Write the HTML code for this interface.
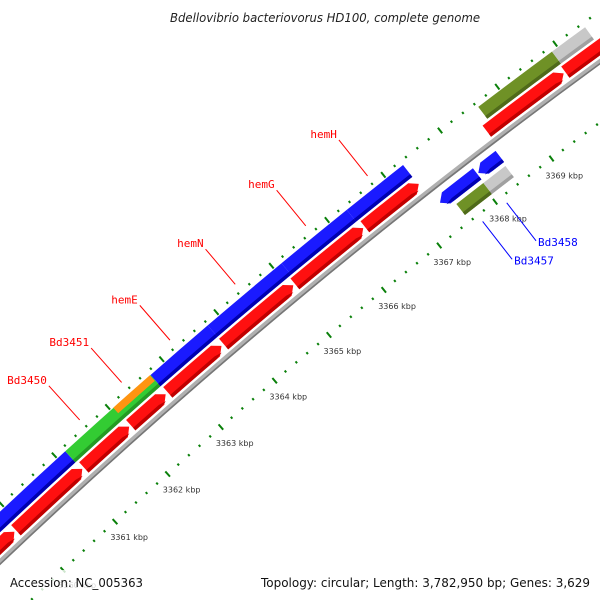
<!DOCTYPE html>
<html><head><meta charset="utf-8"><style>
html,body{margin:0;padding:0;background:#fff;width:600px;height:600px;overflow:hidden;}
svg{display:block;overflow:hidden;}
</style></head><body>
<svg id="chart" width="600" height="600" viewBox="0 0 600 600" xmlns="http://www.w3.org/2000/svg">
<rect x="0" y="0" width="600" height="600" fill="#fff"/>
<g id="ticks"></g>
<g id="backbone"></g>
<g id="features"></g>
<g id="labels"></g>
<rect x="0" y="570" width="150" height="26" fill="#fff" opacity="0.8"/>
<text x="170" y="22" textLength="310" lengthAdjust="spacingAndGlyphs" font-family="DejaVu Sans, Liberation Sans, sans-serif" font-style="italic" font-size="12" fill="#222">Bdellovibrio bacteriovorus HD100, complete genome</text>
<text x="10" y="587" textLength="133" lengthAdjust="spacingAndGlyphs" font-family="DejaVu Sans, Liberation Sans, sans-serif" font-size="12" fill="#111">Accession: NC_005363</text>
<text x="261" y="587" textLength="329" lengthAdjust="spacingAndGlyphs" font-family="DejaVu Sans, Liberation Sans, sans-serif" font-size="12" fill="#111">Topology: circular; Length: 3,782,950 bp; Genes: 3,629</text>
</svg>
<script>
// axis data
const tickLabels = [3360, 3361, 3362, 3363, 3364, 3365, 3366, 3367, 3368, 3369, 3370];
// features
const featStart = [3358, 3361.15, 3362.05, 3362.74, 3363.79, 3365.13, 3366.30, 3368.62, 3369.90,
  3358, 3359.90, 3361.19, 3362.07, 3362.76, 3363.79, 3365.09, 3366.35, 3368.51, 3369.88,
  3367.38, 3368.06, 3367.55, 3368.03];
const featEnd = [3361.15, 3362.74, 3362.73, 3363.79, 3365.13, 3366.30, 3367.30, 3369.90, 3370.47,
  3359.87, 3361.16, 3362.04, 3362.72, 3363.75, 3365.06, 3366.32, 3367.31, 3369.85, 3372,
  3368.04, 3368.44, 3368.03, 3368.42];
const featLane = [0,0,4,0,0,0,0,0,0, 1,1,1,1,1,1,1,1,1,1, 2,2,3,3];
const featColor = ['blue','green','orange','blue','blue','blue','blue','olive','lgray',
  'red','red','red','red','red','red','red','red','red','red',
  'blue','blue','olive','lgray'];
const featShape = ['rect','rect','rect','rect','rect','rect','rect','rect','rect',
  'fwd','fwd','fwd','fwd','fwd','fwd','fwd','fwd','fwd','fwd',
  'rev','rev','rect','rect'];
// labels
const labelNames = ['Bd3450','Bd3451','hemE','hemN','hemG','hemH','Bd3457','Bd3458'];
const labelPos = [3361.59, 3362.37, 3363.26, 3364.45, 3365.72, 3366.82, 3367.69, 3368.12];
const labelSide = ['out','out','out','out','out','out','in','in'];

const NS = 'http://www.w3.org/2000/svg';
const CX = 4165.6, CY = 4948, A0 = -129.75, K = 0.678;
const laneR = [6078, 6061, 6033, 6015, 6082];
const laneW = [15, 14, 14, 14, 7.5];
const palette = {blue:['#1a1aff','#0000b0'], green:['#3c3','#249a24'], orange:['#ff9411','#c86400'],
  olive:['#6f9126','#4f6a1a'], lgray:['#c8c8c8','#a0a0a0'], red:['#ff1010','#c00000']};

function pt(k, r){ const a=(A0+K*(k-3365))*Math.PI/180; return [CX+r*Math.cos(a), CY+r*Math.sin(a)]; }
function s(p){ return p[0].toFixed(2)+','+p[1].toFixed(2); }
function bandPath(st, en, r, w, shape){
  const ro=r+w/2, ri=r-w/2, h=Math.min(0.11,(en-st)*0.5);
  if(shape==='fwd'){
    return 'M'+s(pt(st,ro))+' A'+ro+','+ro+' 0 0 1 '+s(pt(en-h,ro))+' L'+s(pt(en,r))+' L'+s(pt(en-h,ri))+' A'+ri+','+ri+' 0 0 0 '+s(pt(st,ri))+' Z';
  } else if(shape==='rev'){
    return 'M'+s(pt(st,r))+' L'+s(pt(st+h,ro))+' A'+ro+','+ro+' 0 0 1 '+s(pt(en,ro))+' L'+s(pt(en,ri))+' A'+ri+','+ri+' 0 0 0 '+s(pt(st+h,ri))+' Z';
  }
  return 'M'+s(pt(st,ro))+' A'+ro+','+ro+' 0 0 1 '+s(pt(en,ro))+' L'+s(pt(en,ri))+' A'+ri+','+ri+' 0 0 0 '+s(pt(st,ri))+' Z';
}

// ticks
const tg = document.getElementById('ticks');
[6090, 6000].forEach(function(R){
  for(let i=0;i<=100;i++){
    const k = 3355 + i*0.2;
    const major = Math.abs(k-Math.round(k))<1e-6;
    const len = major?3.5:1.2;
    const a=pt(k,R-len), b=pt(k,R+len);
    if(Math.min(a[1],b[1])>602 || Math.max(a[0],b[0])>602) continue;
    const l=document.createElementNS(NS,'line');
    
    
    l.setAttribute('x1',a[0]);l.setAttribute('y1',a[1]);l.setAttribute('x2',b[0]);l.setAttribute('y2',b[1]);
    l.setAttribute('stroke','#0a800a');l.setAttribute('stroke-width','2');
    tg.appendChild(l);
  }
});
tickLabels.forEach(function(v){
  const p=pt(v,5979);
  const t=document.createElementNS(NS,'text');
  
  
  t.setAttribute('x',p[0]);t.setAttribute('y',p[1]+3);
  t.setAttribute('text-anchor','middle');t.setAttribute('font-family','DejaVu Sans, Liberation Sans, sans-serif');
  t.setAttribute('font-size','8');t.setAttribute('fill','#333');
  t.textContent=v+' kbp';
  tg.appendChild(t);
});

// backbone
const bb=document.getElementById('backbone');
const bp=document.createElementNS(NS,'path');


bp.setAttribute('d',bandPath(3354,3376,6049,5,'rect'));
bp.setAttribute('fill','#b0b0b0');
bb.appendChild(bp);
const bp2=document.createElementNS(NS,'path');


bp2.setAttribute('d',bandPath(3354,3376,6047.3,1.6,'rect'));
bp2.setAttribute('fill','#777');
bb.appendChild(bp2);

// features
const fg=document.getElementById('features');
for(let i=0;i<featStart.length;i++){
  const r=laneR[featLane[i]], w=laneW[featLane[i]], c=palette[featColor[i]];
  const p=document.createElementNS(NS,'path');
  
  
  p.setAttribute('d',bandPath(featStart[i],featEnd[i],r,w,featShape[i]));
  p.setAttribute('fill',c[0]);
  fg.appendChild(p);
  if(featLane[i]!==4){
    const sh=document.createElementNS(NS,'path');
    
    
    const hw=3.5;
    const st=featShape[i]==='rev'?featStart[i]+0.06:featStart[i];
    const en=featShape[i]==='fwd'?featEnd[i]-0.06:featEnd[i];
    sh.setAttribute('d',bandPath(st,en,r-w/2+hw/2,hw,featShape[i]));
    sh.setAttribute('fill',c[1]);
    fg.appendChild(sh);
  }
}

// labels
const lg=document.getElementById('labels');
for(let i=0;i<labelNames.length;i++){
  const out=labelSide[i]==='out';
  const a=pt(labelPos[i], out?6099:5992), b=pt(labelPos[i], out?6145:5944);
  const col=out?'#ff0000':'#0000ff';
  const l=document.createElementNS(NS,'line');
  
  
  l.setAttribute('x1',a[0]);l.setAttribute('y1',a[1]);l.setAttribute('x2',b[0]);l.setAttribute('y2',b[1]);
  l.setAttribute('stroke',col);l.setAttribute('stroke-width','1');
  lg.appendChild(l);
  const t=document.createElementNS(NS,'text');
  
  
  if(out){ t.setAttribute('x',b[0]-2); t.setAttribute('y',b[1]-2); t.setAttribute('text-anchor','end'); }
  else { t.setAttribute('x',b[0]+2); t.setAttribute('y',b[1]+5); t.setAttribute('text-anchor','start'); }
  t.setAttribute('font-family','DejaVu Sans Mono, Liberation Mono, monospace');
  t.setAttribute('font-size','11');t.setAttribute('fill',col);
  t.textContent=labelNames[i];
  lg.appendChild(t);
}
</script>
</body></html>
